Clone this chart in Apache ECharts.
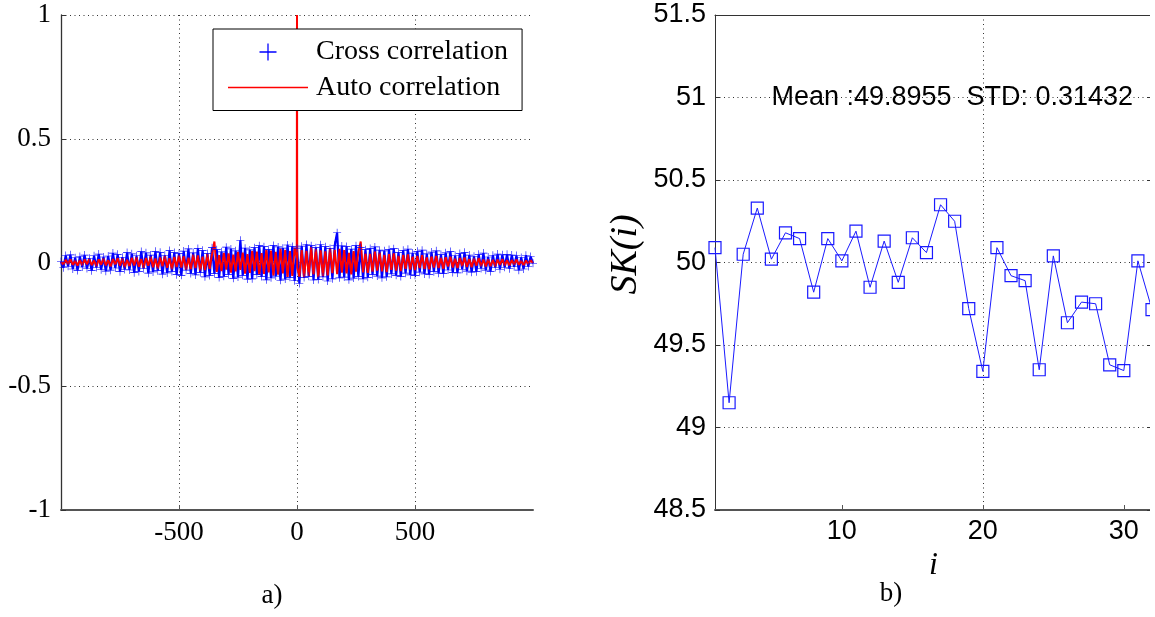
<!DOCTYPE html>
<html>
<head>
<meta charset="utf-8">
<script src="https://cdn.jsdelivr.net/npm/echarts@6/dist/echarts.min.js"></script>
<style>
  html, body { margin: 0; padding: 0; background: #fff; }
  #chart { width: 1155px; height: 617px; }
</style>
</head>
<body>
<div id="chart"></div>
<script>
// a) correlation, lags -1000..1000 every 10 (values read off the band)
var lagStep = 10
var lags = []
for (var l = -1000; l <= 1000; l += lagStep) lags.push(l)

var crossValues = [
  0.004, -0.021, 0.028, -0.015, 0.031, -0.026, 0.019, -0.032, 0.024, -0.018,
  0.030, -0.024, 0.017, -0.033, 0.027, -0.020, 0.034, -0.029, 0.022, -0.035,
  0.026, -0.031, 0.038, -0.022, 0.033, -0.037, 0.021, -0.028, 0.040, -0.030,
  0.035, -0.041, 0.027, -0.036, 0.044, -0.025, 0.039, -0.043, 0.030, -0.038,
  0.045, -0.033, 0.041, -0.047, 0.029, -0.042, 0.048, -0.036, 0.040, -0.049,
  0.037, -0.052, 0.046, -0.031, 0.055, -0.044, 0.039, -0.050, 0.057, -0.041,
  0.049, -0.058, 0.036, -0.053, 0.060, -0.045, 0.052, -0.061, 0.043, -0.056,
  0.062, -0.048, 0.055, -0.064, 0.047, -0.059, 0.090, -0.052, 0.058, -0.067,
  0.051, -0.066, 0.060, -0.049, 0.068, -0.057, 0.064, -0.070, 0.053, -0.062,
  0.069, -0.055, 0.063, -0.072, 0.058, -0.067, 0.071, -0.060, 0.065, -0.074,
  0.058, -0.085, 0.066, -0.061, 0.073, -0.056, 0.068, -0.071, 0.060, -0.069,
  0.072, -0.058, 0.064, -0.075, 0.057, -0.066, 0.070, 0.120, -0.062, 0.067,
  -0.059, 0.065, -0.070, 0.054, -0.063, 0.068, -0.057, 0.061, -0.066, 0.052,
  -0.060, 0.057, -0.049, 0.063, -0.055, 0.050, -0.062, 0.047, -0.058, 0.053,
  -0.046, 0.056, -0.052, 0.041, -0.057, 0.049, -0.043, 0.054, -0.050, 0.038,
  -0.052, 0.045, -0.039, 0.050, -0.046, 0.035, -0.048, 0.042, -0.037, 0.047,
  -0.043, 0.032, -0.045, 0.039, -0.030, 0.044, -0.040, 0.028, -0.042, 0.036,
  -0.027, 0.041, -0.035, 0.030, -0.039, 0.025, -0.037, 0.033, -0.024, 0.038,
  -0.031, 0.022, -0.036, 0.029, -0.020, 0.034, -0.027, 0.031, -0.019, 0.033,
  -0.025, 0.030, -0.017, 0.028, -0.031, 0.020, -0.026, 0.029, -0.016, 0.024,
  -0.003
]

var autoValues = [
  0.002, -0.008, 0.011, -0.006, 0.013, -0.010, 0.007, -0.012, 0.009, -0.011,
  0.012, -0.007, 0.014, -0.011, 0.008, -0.015, 0.013, -0.009, 0.016, -0.012,
  0.010, -0.017, 0.014, -0.009, 0.018, -0.013, 0.016, -0.019, 0.011, -0.015,
  0.019, -0.012, 0.021, -0.017, 0.014, -0.022, 0.018, -0.013, 0.023, -0.019,
  0.016, -0.024, 0.020, -0.015, 0.026, -0.021, 0.017, -0.027, 0.022, -0.018,
  0.028, -0.020, 0.025, -0.030, 0.019, -0.027, 0.032, -0.023, 0.029, -0.033,
  0.024, -0.031, 0.036, -0.026, 0.033, 0.085, -0.038, 0.030, -0.035, 0.039,
  -0.029, 0.037, -0.041, 0.032, -0.036, 0.043, -0.030, 0.040, -0.045, 0.034,
  -0.042, 0.047, -0.035, 0.044, -0.050, 0.038, -0.046, 0.052, -0.040, 0.048,
  -0.053, 0.043, -0.049, 0.056, -0.044, 0.051, -0.058, 0.046, -0.054, 0.060,
  1, -0.057, 0.050, -0.061, 0.047, -0.055, 0.062, -0.048, 0.053, -0.059,
  0.049, -0.056, 0.045, -0.052, 0.058, -0.043, 0.051, -0.047, 0.055, -0.041,
  0.050, -0.044, 0.039, -0.048, 0.046, -0.037, 0.043, 0.085, -0.040, 0.036,
  -0.042, 0.035, -0.038, 0.044, -0.033, 0.040, -0.036, 0.031, -0.039, 0.034,
  -0.030, 0.037, -0.033, 0.028, -0.035, 0.031, -0.026, 0.033, -0.029, 0.025,
  -0.031, 0.027, -0.023, 0.030, -0.026, 0.021, -0.028, 0.024, -0.020, 0.026,
  -0.022, 0.019, -0.025, 0.021, -0.017, 0.023, -0.020, 0.016, -0.022, 0.018,
  -0.015, 0.020, -0.018, 0.014, -0.019, 0.016, -0.013, 0.018, -0.015, 0.012,
  -0.017, 0.013, -0.015, 0.011, -0.016, 0.012, -0.010, 0.014, -0.012, 0.009,
  -0.013, 0.010, -0.008, 0.012, -0.009, 0.007, -0.011, 0.008, -0.006, 0.009,
  -0.002
]
// the peak at lag 0 is one sample wide, these are its neighbours
var peakLags = [-1, 1]
var peakValues = [0.02, -0.02]

// b) SK(i), i = 1..32
var skIndex = [1, 2, 3, 4, 5, 6, 7, 8, 9, 10, 11, 12, 13, 14, 15, 16,
  17, 18, 19, 20, 21, 22, 23, 24, 25, 26, 27, 28, 29, 30, 31, 32]
var skValues = [50.09, 49.15, 50.05, 50.33, 50.02, 50.18, 50.145, 49.82,
  50.145, 50.01, 50.19, 49.85, 50.13, 49.88, 50.15, 50.06,
  50.35, 50.25, 49.72, 49.34, 50.09, 49.92, 49.89, 49.35,
  50.04, 49.635, 49.76, 49.75, 49.38, 49.345, 50.01, 49.715]
var skTicksX = [10, 20, 30]
var statsText = 'Mean :49.8955  STD: 0.31432'
var statsAt = [5, 51]

var crossData = lags.map(function(lag, k) { return [lag, crossValues[k]] })
var autoData = []
lags.forEach(function(lag, k) {
  if (lag === 0) {
    autoData.push([peakLags[0], peakValues[0]])
    autoData.push([0, autoValues[k]])
    autoData.push([peakLags[1], peakValues[1]])
  } else {
    autoData.push([lag, autoValues[k]])
  }
})
var skData = skIndex.map(function(i, k) { return [i, skValues[k]] })

var serif = 'Liberation Serif'
var sans = 'Liberation Sans'
var dotted = { type: [1, 3.5], color: '#333', width: 1 }
var plus = 'path://M7.4,0h1.2v7.4h7.4v1.2h-7.4v7.4h-1.2v-7.4h-7.4v-1.2h7.4z'
var dash = 'path://M0,0h80v1.4h-80z'

var chart = echarts.init(document.getElementById('chart'), null, { renderer: 'canvas' })
chart.setOption({
  animation: false,
  backgroundColor: '#fff',
  grid: [
    { left: 61, top: 15, width: 472, height: 495, outerBoundsMode: 'none' },
    { left: 715, top: 15, width: 437, height: 495, outerBoundsMode: 'none' }
  ],
  legend: {
    left: 213,
    top: 29,
    orient: 'vertical',
    selectedMode: false,
    backgroundColor: '#fff',
    borderColor: '#000',
    borderWidth: 1,
    padding: [8, 14, 8, 15],
    itemGap: 5.5,
    itemWidth: 80,
    itemHeight: 17,
    textStyle: { fontFamily: serif, fontSize: 28, color: '#000', lineHeight: 30, padding: [0, 0, 0, 3] },
    data: [
      { name: 'Cross correlation', icon: plus, itemStyle: { color: '#0000ff', borderWidth: 0 } },
      { name: 'Auto correlation', icon: dash, itemStyle: { color: '#ff0000', borderColor: '#ff0000', borderWidth: 0 } }
    ]
  },
  xAxis: [
    {
      gridIndex: 0, type: 'value', min: -1000, max: 1000, interval: 500,
      axisLine: { onZero: false, lineStyle: { color: '#555', width: 2 } },
      axisTick: { inside: true, length: 5, lineStyle: { color: '#555' } },
      axisLabel: { showMinLabel: false, showMaxLabel: false, fontFamily: serif, fontSize: 27, color: '#000', margin: 9 },
      splitLine: { show: true, showMinLine: false, showMaxLine: false, lineStyle: dotted }
    },
    {
      gridIndex: 1, type: 'value', min: 1, max: 32,
      name: 'i', nameLocation: 'middle', nameGap: 26,
      nameTextStyle: { fontFamily: serif, fontStyle: 'italic', fontSize: 32, color: '#000' },
      axisLine: { onZero: false, lineStyle: { color: '#555', width: 2 } },
      axisTick: { inside: true, length: 5, customValues: skTicksX, lineStyle: { color: '#555' } },
      axisLabel: { customValues: skTicksX, fontFamily: sans, fontSize: 27, color: '#000', margin: 8 },
      splitLine: { show: true, showMinLine: false, showMaxLine: false, lineStyle: dotted }
    },
    {
      gridIndex: 1, type: 'value', min: 1, max: 32, position: 'top',
      axisLine: { show: true, onZero: false, lineStyle: { color: '#333', width: 1 } },
      axisTick: { show: false }, axisLabel: { show: false }, splitLine: { show: false }
    }
  ],
  yAxis: [
    {
      gridIndex: 0, type: 'value', min: -1, max: 1, interval: 0.5,
      axisLine: { show: true, onZero: false, lineStyle: { color: '#333', width: 1.3 } },
      axisTick: { show: true, inside: true, length: 5, lineStyle: { color: '#333' } },
      axisLabel: { fontFamily: serif, fontSize: 27, color: '#000', margin: 10 },
      splitLine: { show: true, showMinLine: false, lineStyle: dotted }
    },
    {
      gridIndex: 1, type: 'value', min: 48.5, max: 51.5, interval: 0.5,
      name: 'SK(i)', nameLocation: 'middle', nameGap: 70,
      nameTextStyle: { fontFamily: serif, fontStyle: 'italic', fontSize: 38, color: '#000', padding: [0, 0, 0, 16] },
      axisLine: { show: true, onZero: false, lineStyle: { color: '#333', width: 1 } },
      axisTick: { show: true, inside: true, length: 5, lineStyle: { color: '#333' } },
      axisLabel: { fontFamily: sans, fontSize: 27, color: '#000', margin: 9 },
      splitLine: { show: true, showMinLine: false, showMaxLine: false, lineStyle: dotted }
    },
    {
      gridIndex: 1, type: 'value', min: 48.5, max: 51.5, interval: 0.5, position: 'right',
      axisLine: { show: true, onZero: false, lineStyle: { color: '#333', width: 1 } },
      axisTick: { show: true, inside: true, length: 5, lineStyle: { color: '#333' } },
      axisLabel: { show: false }, splitLine: { show: false }
    }
  ],
  series: [
    {
      name: 'Cross correlation', type: 'line', xAxisIndex: 0, yAxisIndex: 0,
      data: crossData, symbol: plus, symbolSize: 8, showAllSymbol: true, color: '#0000ff',
      itemStyle: { color: '#0000ff' },
      lineStyle: { color: '#0000ff', width: 2.2 }
    },
    {
      name: 'Auto correlation', type: 'line', xAxisIndex: 0, yAxisIndex: 0,
      data: autoData, symbol: 'none', color: '#ff0000',
      itemStyle: { color: '#ff0000' },
      lineStyle: { color: '#ff0000', width: 2 }
    },
    {
      name: 'SK', type: 'line', xAxisIndex: 1, yAxisIndex: 1,
      data: skData, symbol: 'rect', symbolSize: 12, showAllSymbol: true,
      lineStyle: { color: '#1a1aff', width: 1 },
      itemStyle: { color: 'rgba(0,0,0,0)', borderColor: '#1a1aff', borderWidth: 1.2 }
    },
    {
      name: 'stats', type: 'scatter', xAxisIndex: 1, yAxisIndex: 1,
      data: [statsAt], symbolSize: 0, silent: true,
      label: {
        show: true, position: 'right', distance: 0, formatter: statsText,
        fontFamily: sans, fontSize: 27, color: '#000', opacity: 1
      }
    }
  ],
  graphic: [
    { type: 'rect', shape: { x: 1150, y: 0, width: 10, height: 617 }, style: { fill: '#fff' }, z: 100 },
    { type: 'text', x: 272, y: 596, style: { text: 'a)', font: '27px "Liberation Serif"', fill: '#000', align: 'center', verticalAlign: 'middle' } },
    { type: 'text', x: 891, y: 594, style: { text: 'b)', font: '27px "Liberation Serif"', fill: '#000', align: 'center', verticalAlign: 'middle' } }
  ]
})
</script>
</body>
</html>
